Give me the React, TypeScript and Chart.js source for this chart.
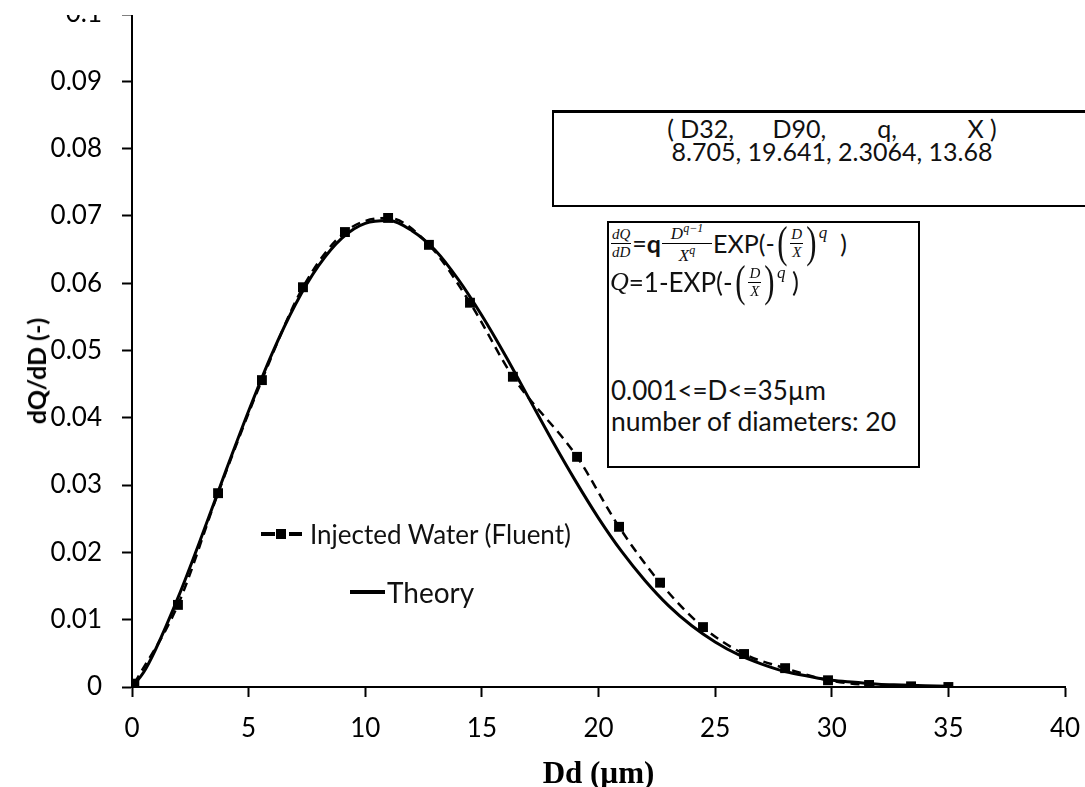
import React, { useEffect, useRef } from 'react';
import { Chart, registerables } from 'chart.js';

Chart.register(...registerables);

// ---- data ----
const fluentD = [0.1, 1.97, 3.69, 5.57, 7.33, 9.13, 10.98, 12.73, 14.49, 16.33, 19.08, 20.88, 22.64, 24.48, 26.24, 28.0, 29.84, 31.6, 33.4, 35.0];
const fluentQ = [0.0005, 0.0122, 0.0288, 0.0456, 0.0594, 0.0676, 0.0697, 0.0657, 0.0571, 0.0461, 0.0342, 0.0238, 0.0155, 0.0089, 0.0049, 0.0028, 0.0010, 0.0003, 0.0001, 0.0];

const theoryD = [0, 0.5, 1, 2, 3, 4, 5, 6, 7, 8, 9, 10, 11, 12, 13, 14, 15, 16, 17, 18, 19, 20, 21, 22, 23, 24, 25, 26, 27, 28, 29, 30, 31, 32, 33, 34, 35];
const theoryQ = [0, 0.0022, 0.0055, 0.0135, 0.0225, 0.0319, 0.0410, 0.0495, 0.0568, 0.0626, 0.0667, 0.0689, 0.0693, 0.0678, 0.0649, 0.0605, 0.0552, 0.0493, 0.0430, 0.0367, 0.0307, 0.0251, 0.0201, 0.0158, 0.0121, 0.0091, 0.0067, 0.0048, 0.0034, 0.0023, 0.0016, 0.0010, 0.0007, 0.0004, 0.0003, 0.0002, 0.0001];

const xTickValues = [0, 5, 10, 15, 20, 25, 30, 35, 40];
const xTickLabels = ['0', '5', '10', '15', '20', '25', '30', '35', '40'];
const yTickValues = [0, 0.01, 0.02, 0.03, 0.04, 0.05, 0.06, 0.07, 0.08, 0.09, 0.1];
const yTickLabels = ['0', '0.01', '0.02', '0.03', '0.04', '0.05', '0.06', '0.07', '0.08', '0.09', '0.1'];

const seriesNames = ['Injected Water (Fluent)', 'Theory'];
const xTitle = 'Dd (µm)';
const yTitle = 'dQ/dD (-)';
const paramHeader = '( D32,      D90,        q,           X )';
const paramValues = '8.705, 19.641, 2.3064, 13.68';
const rangeText = '0.001<=D<=35µm';
const countText = 'number of diameters: 20';

const SANS = 'Lato, "Open Sans", sans-serif';
const SERIF = '"Liberation Serif", "DejaVu Serif", serif';

const Frac = ({ num, den, size, minWidth }: { num: React.ReactNode; den: React.ReactNode; size: number; minWidth?: number }) => (
  <span style={{ display: 'inline-flex', flexDirection: 'column', alignItems: 'center', fontFamily: SERIF, fontStyle: 'italic', fontSize: size, lineHeight: 1, margin: '0 1px', minWidth }}>
    <span style={{ padding: '0 1px' }}>{num}</span>
    <span style={{ borderTop: '1px solid #000', alignSelf: 'stretch', height: 0, margin: '1px 0' }} />
    <span>{den}</span>
  </span>
);

const BigParen = ({ ch }: { ch: string }) => (
  <span style={{ fontFamily: SERIF, fontSize: 44, lineHeight: 1, display: 'inline-block', transform: 'scaleX(0.7)' }}>{ch}</span>
);

export default function App() {
  const canvasRef = useRef<HTMLCanvasElement | null>(null);

  useEffect(() => {
    if (!canvasRef.current) return;
    const axisCommon = {
      grid: { display: true, drawOnChartArea: false, drawTicks: true, tickLength: 10, tickColor: '#000', tickWidth: 2 },
      border: { display: true, color: '#000', width: 2 },
    };
    const chart = new Chart(canvasRef.current, {
      type: 'line',
      data: {
        datasets: [
          {
            label: seriesNames[1],
            data: theoryD.map((d, i) => ({ x: d, y: theoryQ[i] })),
            borderColor: '#000',
            borderWidth: 3,
            pointRadius: 0,
            cubicInterpolationMode: 'monotone',
            fill: false,
          },
          {
            label: seriesNames[0],
            data: fluentD.map((d, i) => ({ x: d, y: fluentQ[i] })),
            borderColor: '#000',
            borderWidth: 2.5,
            borderDash: [9, 6],
            pointStyle: 'rect',
            pointRadius: 7,
            pointBackgroundColor: '#000',
            pointBorderColor: '#000',
            pointBorderWidth: 0,
            cubicInterpolationMode: 'monotone',
            fill: false,
          },
        ],
      },
      options: {
        animation: false,
        responsive: false,
        devicePixelRatio: 1,
        layout: { autoPadding: false, padding: { left: 0, right: 20, top: 14, bottom: 0 } },
        plugins: { legend: { display: false }, tooltip: { enabled: false } },
        scales: {
          x: {
            type: 'linear',
            min: 0,
            max: 40,
            ...axisCommon,
            afterBuildTicks: (s: any) => { s.ticks = xTickValues.map((v) => ({ value: v })); },
            afterFit: (s: any) => { s.height = 100; s.paddingLeft = 0; s.paddingRight = 0; },
            ticks: {
              callback: (_v: any, i: number) => xTickLabels[i],
              font: { family: SANS, size: 26, lineHeight: 1 },
              color: '#000',
              padding: 19,
              maxRotation: 0,
              autoSkip: false,
            },
            title: {
              display: true,
              text: xTitle,
              font: { family: SERIF, size: 31, weight: 'bold', lineHeight: 0.8 },
              color: '#000',
              padding: 0,
            },
          },
          y: {
            type: 'linear',
            min: 0,
            max: 0.1,
            ...axisCommon,
            afterBuildTicks: (s: any) => { s.ticks = yTickValues.map((v) => ({ value: v })); },
            afterFit: (s: any) => { s.width = 132; s.paddingTop = 0; s.paddingBottom = 0; },
            ticks: {
              callback: (_v: any, i: number) => yTickLabels[i],
              font: { family: SANS, size: 26, lineHeight: 1 },
              color: '#000',
              padding: 20,
              autoSkip: false,
            },
            title: { display: false },
          },
        },
      },
    } as any);
    return () => chart.destroy();
  }, []);

  const abs = (o: React.CSSProperties): React.CSSProperties => ({ position: 'absolute', ...o });

  return (
    <div style={abs({ left: 0, top: 0, width: 1085, height: 787, overflow: 'hidden', background: '#fff' })}>
      <canvas ref={canvasRef} width={1085} height={787} style={abs({ left: 0, top: 0, width: 1085, height: 787 })} />
      {/* cropped top edge as in the reference */}
      <div style={abs({ left: 0, top: 0, width: 1085, height: 15, background: '#fff' })} />

      {/* y-axis title */}
      <div style={abs({ left: 36, top: 371, width: 0, height: 0 })}>
        <div style={{ position: 'absolute', left: 0, top: 0, transform: 'translate(-50%, -50%) rotate(-90deg)', fontFamily: SANS, fontWeight: 'bold', fontSize: 25, lineHeight: '26px', whiteSpace: 'pre', color: '#000' }}>{yTitle}</div>
      </div>

      {/* parameters box */}
      <div style={abs({ left: 552, top: 110, width: 560, height: 97, border: '2px solid #000', borderTopWidth: 3, boxSizing: 'border-box', background: '#fff' })}>
        <div style={{ position: 'absolute', left: 0, right: 0, top: 3, textAlign: 'center', fontFamily: SANS, fontSize: 25, lineHeight: '25px', whiteSpace: 'pre', color: '#111' }}>{paramHeader}</div>
        <div style={{ position: 'absolute', left: 0, right: 0, top: 26, textAlign: 'center', fontFamily: SANS, fontSize: 25, lineHeight: '25px', whiteSpace: 'pre', color: '#111' }}>{paramValues}</div>
      </div>

      {/* formula box */}
      <div style={abs({ left: 607, top: 221, width: 313, height: 247, border: '2px solid #000', boxSizing: 'border-box', background: '#fff' })}>
        <div style={{ position: 'absolute', left: 1, top: 0, height: 40, display: 'flex', alignItems: 'center', fontFamily: SANS, fontSize: 25, color: '#111', whiteSpace: 'pre' }}>
          <Frac num="dQ" den="dD" size={15} />
          <span>=</span><span style={{ fontWeight: 'bold' }}>q</span>
          <Frac num={<span>D<sup style={{ fontSize: 12 }}>q−1</sup></span>} den={<span>X<sup style={{ fontSize: 12 }}>q</sup></span>} size={17} minWidth={50} />
          <span>EXP(-</span>
          <BigParen ch="(" />
          <Frac num="D" den="X" size={15} />
          <BigParen ch=")" />
          <span style={{ fontFamily: SERIF, fontStyle: 'italic', fontSize: 17, alignSelf: 'flex-start', marginTop: 0 }}>q</span>
          <span>  )</span>
        </div>
        <div style={{ position: 'absolute', left: 1, top: 40, height: 38, display: 'flex', alignItems: 'center', fontFamily: SANS, fontSize: 26, color: '#111', whiteSpace: 'pre' }}>
          <span style={{ fontFamily: SERIF, fontStyle: 'italic', fontSize: 26 }}>Q</span>
          <span>=1-EXP(-</span>
          <BigParen ch="(" />
          <Frac num="D" den="X" size={15} />
          <BigParen ch=")" />
          <span style={{ fontFamily: SERIF, fontStyle: 'italic', fontSize: 17, alignSelf: 'flex-start', marginTop: 0 }}>q</span>
          <span> )</span>
        </div>
        <div style={{ position: 'absolute', left: 2, top: 153, fontFamily: SANS, fontSize: 26, lineHeight: '28px', color: '#111', whiteSpace: 'pre' }}>{rangeText}</div>
        <div style={{ position: 'absolute', left: 2, top: 184, fontFamily: SANS, fontSize: 26.5, lineHeight: '28px', color: '#111', whiteSpace: 'pre' }}>{countText}</div>
      </div>

      {/* legend */}
      <div style={abs({ left: 261, top: 532, width: 14, height: 4, background: '#000' })} />
      <div style={abs({ left: 276, top: 529, width: 10, height: 10, background: '#000' })} />
      <div style={abs({ left: 289, top: 532, width: 13, height: 4, background: '#000' })} />
      <div style={abs({ left: 310, top: 519, fontFamily: SANS, fontSize: 26, lineHeight: '30px', color: '#111', whiteSpace: 'pre' })}>{seriesNames[0]}</div>
      <div style={abs({ left: 350, top: 590, width: 35, height: 4, background: '#000' })} />
      <div style={abs({ left: 387, top: 576, fontFamily: SANS, fontSize: 28, lineHeight: '32px', color: '#111', whiteSpace: 'pre' })}>{seriesNames[1]}</div>
    </div>
  );
}
